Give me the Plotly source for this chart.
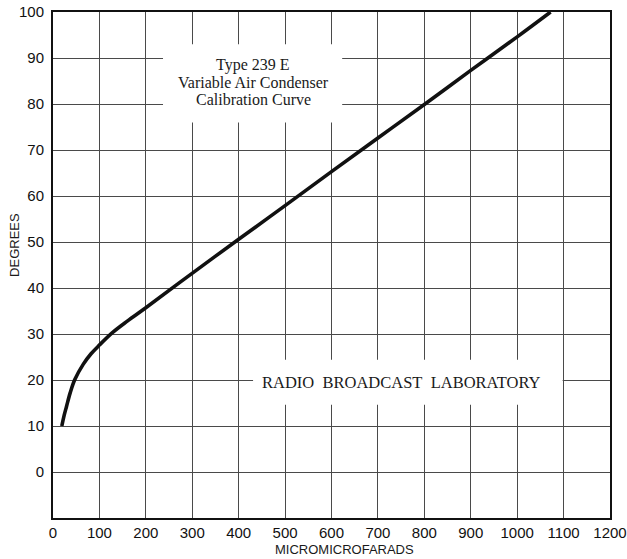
import plotly.graph_objects as go

# calibration curve (micromicrofarads -> degrees)
capacity = [19, 24, 29, 37, 47, 65, 82, 100, 128, 160, 200, 285, 400, 500, 600, 700, 800, 900, 1000, 1072]
degrees = [10, 12.3, 14.2, 17.2, 20.1, 23.4, 25.7, 27.6, 30.3, 32.8, 35.7, 42.1, 50.6, 57.9, 65.3, 72.6, 79.9, 87.3, 94.6, 100]

x_ticks = list(range(0, 1300, 100))
y_ticks = list(range(0, 110, 10))

title_lines = ["Type 239 E", "Variable Air Condenser", "Calibration Curve"]
title_line_y = [88.4, 84.6, 80.9]
lab_label = "RADIO\u00a0\u00a0BROADCAST\u00a0\u00a0LABORATORY"

fig = go.Figure()

fig.add_trace(go.Scatter(
    x=capacity, y=degrees,
    mode="lines",
    line=dict(color="#111111", width=3.6, shape="spline", smoothing=1),
    showlegend=False,
    hoverinfo="skip",
))

# blank patches where the grid is broken for the lettering
fig.add_shape(type="rect", x0=237, x1=623, y0=76, y1=93,
              fillcolor="white", line_width=0, layer="above")
fig.add_shape(type="rect", x0=431, x1=1098, y0=14.6, y1=24.4,
              fillcolor="white", line_width=0, layer="above")

# one annotation per line so the leading stays tight like the print
for line, yy in zip(title_lines, title_line_y):
    fig.add_annotation(x=431, y=yy, text=line, showarrow=False,
                       xanchor="center", yanchor="middle",
                       font=dict(family="Liberation Serif", size=16, color="#1a1a1a"))
fig.add_annotation(x=750, y=19.4, text=lab_label, showarrow=False,
                   xanchor="center", yanchor="middle",
                   font=dict(family="Liberation Serif", size=16.5, color="#1a1a1a"))

# axis titles placed by hand, they sit off-centre in the original
fig.add_annotation(xref="paper", yref="paper", x=0.524, y=-0.063,
                   xanchor="center", yanchor="middle",
                   text="MICROMICROFARADS", showarrow=False,
                   font=dict(family="Liberation Sans", size=13, color="#1a1a1a"))
fig.add_annotation(xref="paper", yref="paper", x=-0.068, y=0.54,
                   xanchor="center", yanchor="middle",
                   text="DEGREES", showarrow=False, textangle=-90,
                   font=dict(family="Liberation Sans", size=13, color="#1a1a1a"))

fig.update_layout(
    width=627, height=559,
    margin=dict(l=53, r=17, t=12, b=41),
    paper_bgcolor="white", plot_bgcolor="white",
    font=dict(family="Liberation Sans", size=15, color="#111111"),
    xaxis=dict(
        range=[0, 1200], tickvals=x_ticks, ticktext=[str(v) for v in x_ticks],
        showgrid=True, gridcolor="#4a4a4a", gridwidth=1.3,
        showline=True, linecolor="#111111", linewidth=2, mirror=True,
        zeroline=False, ticks="", fixedrange=True, automargin=False,
    ),
    yaxis=dict(
        range=[-10, 100], tickvals=y_ticks, ticktext=[str(v) for v in y_ticks],
        showgrid=True, gridcolor="#4a4a4a", gridwidth=1.3,
        showline=True, linecolor="#111111", linewidth=2, mirror=True,
        zeroline=False, ticks="", ticklabelstandoff=4, fixedrange=True,
        automargin=False,
    ),
)

# drop the default page margin so the figure fills the window exactly
fig.write_html("out.html",
               config={"displayModeBar": False},
               post_script="document.body.style.margin='0';"
                           "document.body.style.overflow='hidden';")
